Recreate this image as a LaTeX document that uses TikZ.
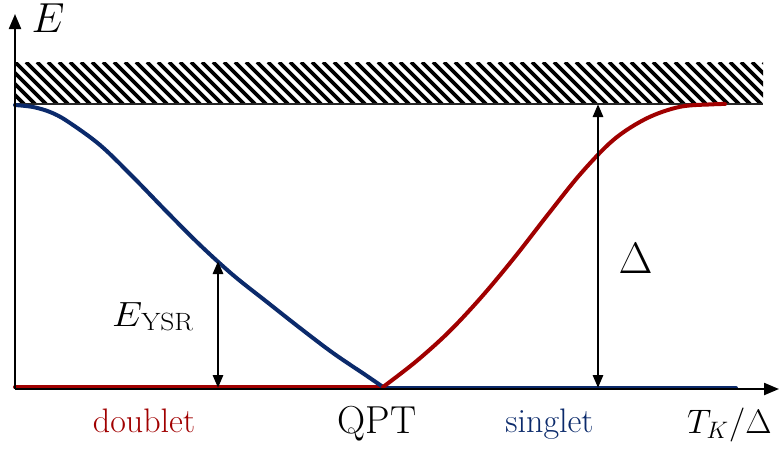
\RequirePackage{fix-cm}
\documentclass[tikz,border=0pt]{standalone}
\usetikzlibrary{arrows.meta}
\definecolor{ysrblue}{HTML}{0B2A6B}
\definecolor{ysrred}{HTML}{A00000}
\tikzset{
  axis/.style={line width=2.2pt,-{Triangle[length=15pt,width=12pt]}},
  dbl/.style={line width=2.8pt,{Triangle[length=13pt,width=10pt]}-{Triangle[length=13pt,width=10pt]}},
  curve/.style={line width=4pt,line cap=round,line join=round},
  lbl/.style={inner sep=0pt},
}
\begin{document}
\begin{tikzpicture}[x=1pt,y=-1pt]
\useasboundingbox (0,0) rectangle (783,450);
% hatched band
\begin{scope}
  \clip (15,62) rectangle (763,104);
  \foreach \i in {0,...,75}{
    \draw[line width=3.7pt] ({-40+11*\i},62) -- ({2+11*\i},104);
  }
\end{scope}
\coordinate (hl) at (15,104);
\coordinate (hr) at (763,104);
\draw[line width=2.8pt,black!85] (hl) -- (hr);
% curves
\coordinate (q) at (383,387);
\draw[curve,ysrred] (15,387) -- (q);
\draw[curve,ysrblue] (383,388) -- (736,388);
\draw[curve,ysrblue] plot[smooth,tension=0.55] coordinates {
 (15,105) (33,107) (50,112) (67,121) (100,145) (133,177) (167,212) (200,245)
 (233,275) (267,302) (300,328) (333,353) (367,376) (383,387)};
\draw[curve,ysrred] plot[smooth,tension=0.55] coordinates {
 (383,387) (416,361.5) (449,331.8) (482,296.4) (515,256.8) (548,214.4)
 (581,173.3) (614,139.4) (647,118.2) (680,106.8) (713,104.3) (725,104)};
% axes
\coordinate (o) at (15,389);
\coordinate (ytip) at (15,14);
\coordinate (xtip) at (779,389);
\draw[axis] (o) -- (ytip);
\draw[axis] (o) -- (xtip);
% arrows
\coordinate (ya) at (218,261);
\coordinate (yb) at (218,388);
\draw[dbl] (ya) -- (yb);
\coordinate (da) at (598,104);
\coordinate (db) at (598,388);
\draw[dbl] (da) -- (db);
% labels
\node[lbl,font=\fontsize{42}{46}\selectfont] (lE) at (48,18) {$E$};
\node[lbl,anchor=base west] (lysr) at (112,326) {\scalebox{1.1}[1]{\fontsize{35}{38}\selectfont$E$\kern-1pt\raisebox{-4pt}{\fontsize{25}{28}\selectfont YSR}}};
\node[lbl,font=\fontsize{44}{48}\selectfont] (ldelta) at (635.5,258.5) {$\Delta$};
\node[lbl,anchor=base,font=\fontsize{34}{38}\selectfont,text=ysrred] (ldoub) at (144,432) {doublet};
\node[lbl,anchor=base,font=\fontsize{39}{43}\selectfont] (lqpt) at (377,433) {QPT};
\node[lbl,anchor=base,font=\fontsize{34}{38}\selectfont,text=ysrblue] (lsing) at (549.5,432) {singlet};
\node[lbl,anchor=base west,font=\fontsize{34}{38}\selectfont] (ltk) at (687,433) {$T_K/\Delta$};
\end{tikzpicture}
\end{document}
